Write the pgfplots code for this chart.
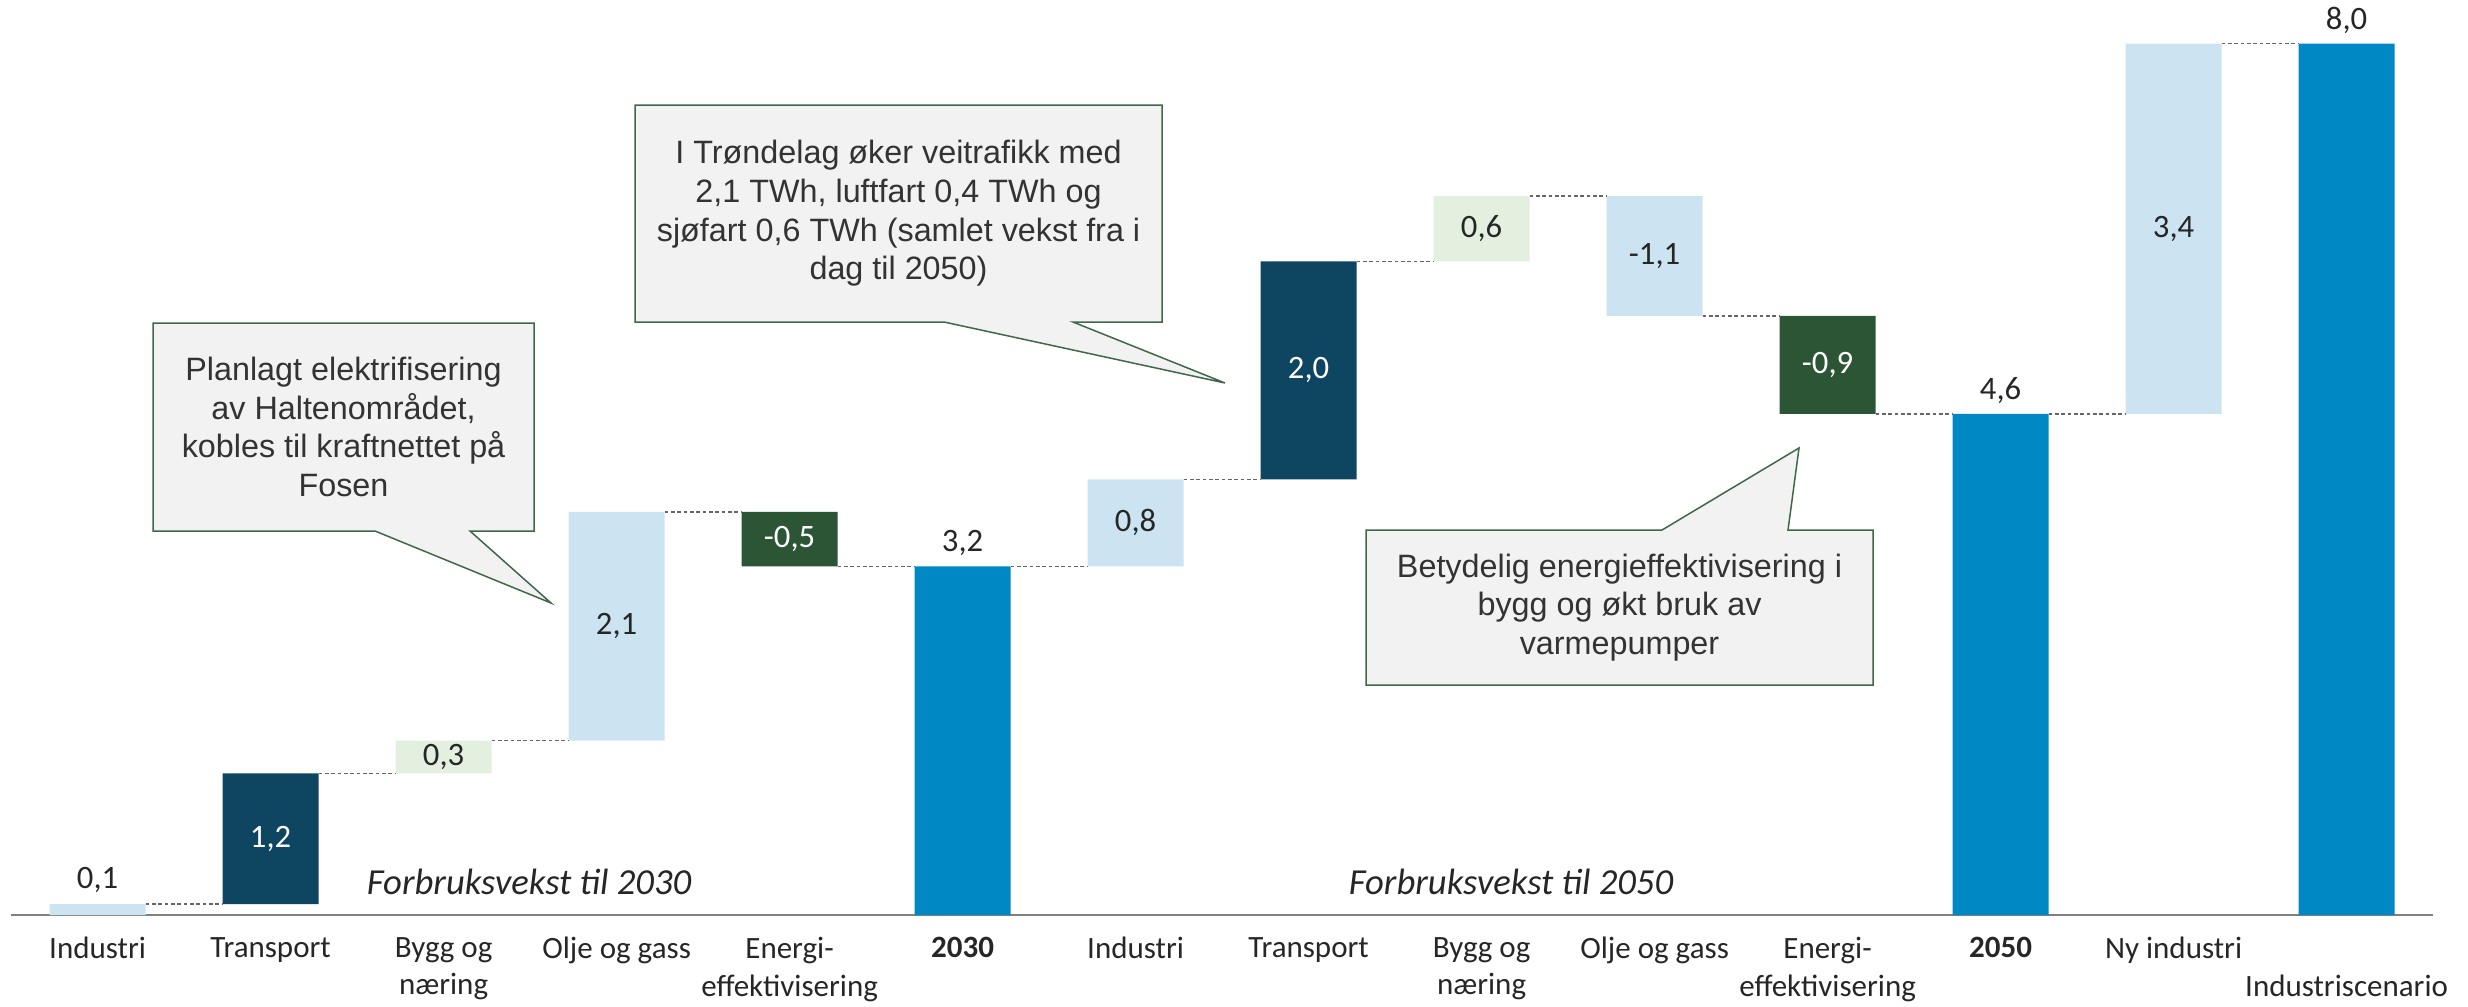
\documentclass[border=0pt]{standalone}
\usepackage{fontspec}
\setmainfont{Carlito}
\newfontfamily\callfont{Liberation Sans}
\usepackage{pgfplots}
\usepackage{pgfplotstable}
\pgfplotsset{compat=1.18}
\definecolor{lb}{HTML}{CCE4F2}
\definecolor{navy}{HTML}{0E4560}
\definecolor{lg}{HTML}{E3F0E0}
\definecolor{dg}{HTML}{2B5535}
\definecolor{mb}{HTML}{0088C4}
\definecolor{callfill}{HTML}{F2F2F2}
\definecolor{callline}{HTML}{41674A}
\definecolor{txt}{HTML}{262626}

\pgfplotstableread{
x base lb navy lg dg mb
0  0   0.1 0   0   0   0
1  0.1 0   1.2 0   0   0
2  1.3 0   0   0.3 0   0
3  1.6 2.1 0   0   0   0
4  3.2 0   0   0   0.5 0
5  0   0   0   0   0   3.2
6  3.2 0.8 0   0   0   0
7  4.0 0   2.0 0   0   0
8  6.0 0   0   0.6 0   0
9  5.5 1.1 0   0   0   0
10 4.6 0   0   0   0.9 0
11 0   0   0   0   0   4.6
12 4.6 3.4 0   0   0   0
13 0   0   0   0   0   8.0
}\bars

\pgfplotstableread{
x y
0.2775 0.1
0.7225 0.1
nan nan
1.2775 1.3
1.7225 1.3
nan nan
2.2775 1.6
2.7225 1.6
nan nan
3.2775 3.7
3.7225 3.7
nan nan
4.2775 3.2
4.7225 3.2
nan nan
5.2775 3.2
5.7225 3.2
nan nan
6.2775 4.0
6.7225 4.0
nan nan
7.2775 6.0
7.7225 6.0
nan nan
8.2775 6.6
8.7225 6.6
nan nan
9.2775 5.5
9.7225 5.5
nan nan
10.2775 4.6
10.7225 4.6
nan nan
11.2775 4.6
11.7225 4.6
nan nan
12.2775 8.0
12.7225 8.0
}\conn

\pgfplotstableread{
x y label
0  0.317 0,1
2  1.45  0,3
3  2.65  2,1
5  3.417 3,2
6  3.6   0,8
8  6.3   0,6
9  6.05  -1,1
11 4.817 4,6
12 6.3   3,4
13 8.217 8,0
}\darklabels

\pgfplotstableread{
x y label
1  0.7  1,2
4  3.45 -0,5
7  5.0  2,0
10 5.05 -0,9
}\whitelabels

\begin{document}
\begin{tikzpicture}
\pgfplotsset{common/.style={
  at={(0,0)}, anchor=south west,
  scale only axis, width=726.6pt, height=274.5pt,
  xmin=-0.5, xmax=13.5, ymin=0, ymax=8.4, clip=false}}
\begin{axis}[common,
  ybar stacked, bar width=28.8pt,
  axis x line*=bottom, axis y line=none,
  x axis line style={-, draw=black!50, line width=0.6pt},
  xtick={0,...,13}, major tick length=0pt,
  xticklabels={Industri, Transport, {Bygg og\\næring}, Olje og gass, {Energi-\\effektivisering}, \textbf{2030}, Industri, Transport, {Bygg og\\næring}, Olje og gass, {Energi-\\effektivisering}, \textbf{2050}, Ny industri, {\vphantom{Id}\\Industriscenario}},
  xticklabel style={align=center, font=\fontsize{9.3}{11.3}\selectfont, text=txt, inner sep=0pt, yshift=-6.5pt},
]
\addplot[draw=none, fill=none] table[x=x, y=base] {\bars};
\addplot[draw=none, fill=lb] table[x=x, y=lb] {\bars};
\addplot[draw=none, fill=navy] table[x=x, y=navy] {\bars};
\addplot[draw=none, fill=lg] table[x=x, y=lg] {\bars};
\addplot[draw=none, fill=dg] table[x=x, y=dg] {\bars};
\addplot[draw=none, fill=mb] table[x=x, y=mb] {\bars};
\end{axis}
\begin{axis}[common, hide axis, unbounded coords=jump]
\addplot[black!60, line width=0.45pt, dash pattern=on 1.1pt off 0.8pt] table[x=x, y=y] {\conn};
\addplot[only marks, mark=none, nodes near coords, point meta=explicit symbolic,
  every node near coord/.append style={anchor=center, font=\fontsize{9.8}{11}\selectfont, text=txt}]
  table[x=x, y=y, meta=label] {\darklabels};
\addplot[only marks, mark=none, nodes near coords, point meta=explicit symbolic,
  every node near coord/.append style={anchor=center, font=\fontsize{9.8}{11}\selectfont, text=white}]
  table[x=x, y=y, meta=label] {\whitelabels};
\node[font=\fontsize{11}{13}\selectfont\itshape, text=txt] at (axis cs:2.494,0.30) {Forbruksvekst til 2030};
\node[font=\fontsize{11}{13}\selectfont\itshape, text=txt] at (axis cs:8.17,0.30) {Forbruksvekst til 2050};
\end{axis}
\begin{scope}[x=0.3pt, y=-0.3pt, shift={(-3.33pt,274.5pt)}]
\draw[callline, fill=callfill, line width=0.45pt, line join=miter]
  (153,323) -- (534,323) -- (534,531) -- (470,531) -- (551,603) -- (375,531) -- (153,531) -- cycle;
\draw[callline, fill=callfill, line width=0.45pt, line join=miter]
  (635,105) -- (1162,105) -- (1162,322) -- (1073,322) -- (1225,383) -- (944,322) -- (635,322) -- cycle;
\draw[callline, fill=callfill, line width=0.45pt, line join=miter]
  (1366,530) -- (1662,530) -- (1799,448) -- (1788,530) -- (1873,530) -- (1873,685) -- (1366,685) -- cycle;
\node[align=center, font=\callfont\fontsize{9.7}{11.6}\selectfont, text=black!80] at (343.5,427)
  {Planlagt elektrifisering\\av Haltenområdet,\\kobles til kraftnettet på\\Fosen};
\node[align=center, font=\callfont\fontsize{9.7}{11.6}\selectfont, text=black!80] at (898.5,213.5)
  {I Trøndelag øker veitrafikk med\\2,1 TWh, luftfart 0,4 TWh og\\sjøfart 0,6 TWh (samlet vekst fra i\\dag til 2050)};
\node[align=center, font=\callfont\fontsize{9.7}{11.6}\selectfont, text=black!80] at (1619.5,607.5)
  {Betydelig energieffektivisering i\\bygg og økt bruk av\\varmepumper};
\pgfresetboundingbox
\path[use as bounding box] (0,0) rectangle (2468,1006);
\end{scope}
\end{tikzpicture}
\end{document}
